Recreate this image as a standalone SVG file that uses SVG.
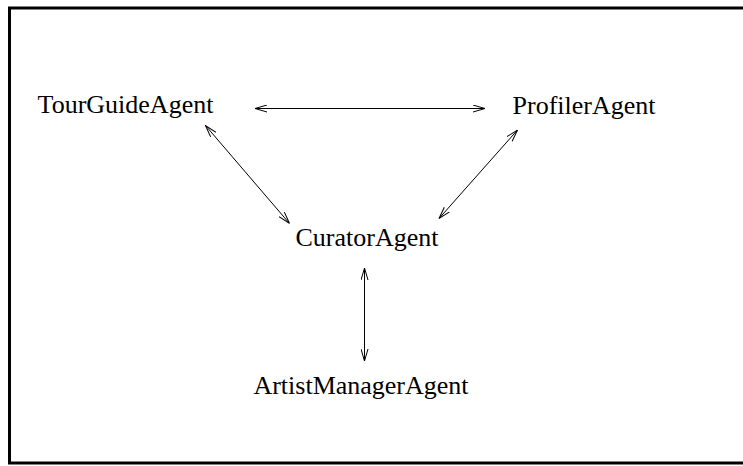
<svg xmlns="http://www.w3.org/2000/svg" width="743" height="466" viewBox="0 0 743 466">
<style>
text{font-family:"Liberation Serif","Times New Roman",serif;font-size:26px;fill:#000;text-anchor:middle}
.c{stroke:#000;stroke-width:1;fill:none;marker-start:url(#a);marker-end:url(#a)}
</style>
<defs>
<marker id="a" viewBox="0 0 12 8" refX="12" refY="4" markerWidth="12" markerHeight="8" markerUnits="userSpaceOnUse" orient="auto-start-reverse">
<path d="M0,0.5 L12,4 L0,7.5" fill="none" stroke="#000" stroke-width="1"/>
</marker>
</defs>
<rect width="743" height="466" fill="#fff"/>
<rect x="9.5" y="8" width="745" height="455" fill="none" stroke="#000" stroke-width="3"/>
<g id="connectors">
<line class="c" x1="255" y1="108.5" x2="485" y2="108.5"/>
<line class="c" x1="205.5" y1="125.5" x2="289.5" y2="223.5"/>
<line class="c" x1="517.5" y1="130" x2="439" y2="218.5"/>
<line class="c" x1="364.5" y1="268" x2="364.5" y2="361"/>
</g>
<g id="TourGuideAgent"><text x="125.5" y="113">TourGuideAgent</text></g>
<g id="ProfilerAgent"><text x="584" y="114">ProfilerAgent</text></g>
<g id="CuratorAgent"><text x="367" y="246">CuratorAgent</text></g>
<g id="ArtistManagerAgent"><text x="361" y="394">ArtistManagerAgent</text></g>
</svg>
